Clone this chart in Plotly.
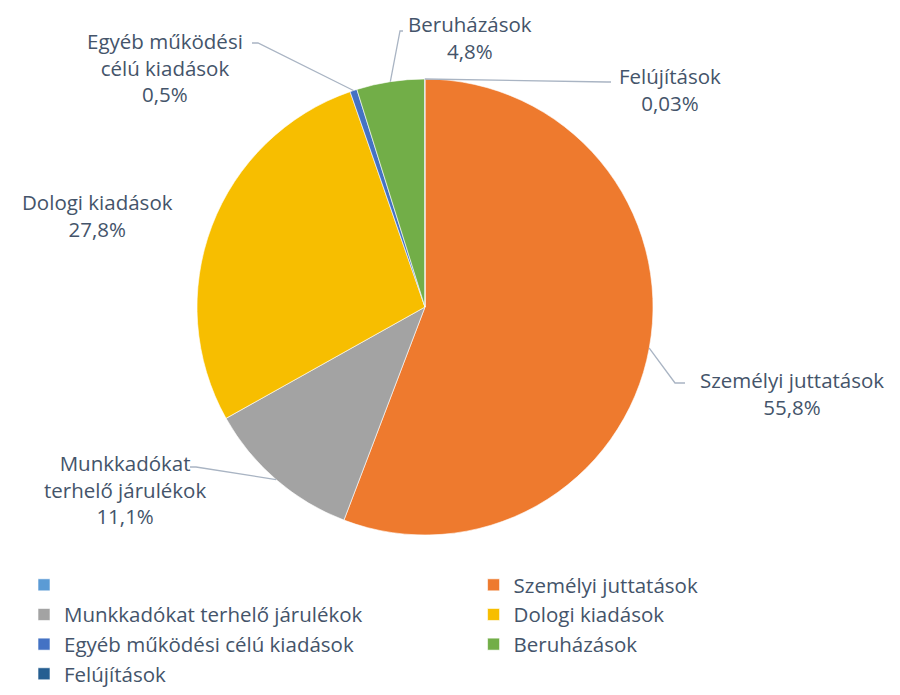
import math
import plotly.graph_objects as go

# ---- data ----
labels = ["\u00a0", "Személyi juttatások", "Munkkadókat terhelő járulékok", "Dologi kiadások",
          "Egyéb működési célú kiadások", "Beruházások", "Felújítások"]
values = [0, 55.8, 11.1, 27.8, 0.5, 4.8, 0.03]
label_lines = ["", "Személyi juttatások", "Munkkadókat<br>terhelő járulékok", "Dologi kiadások",
               "Egyéb működési<br>célú kiadások", "Beruházások", "Felújítások"]
colors = ["#5B9BD5", "#EE7A2E", "#A3A3A3", "#F7BE00", "#4472C4", "#72AE48", "#255E91"]

# ---- layout constants (pixels) ----
W, H = 900, 695
CX, CY, R = 425, 307, 228
TEXT_COLOR = "#44546A"
LINE_COLOR = "#A9B4C3"
FONT = "Open Sans"
FS_LABEL = 20.5
FS_LEGEND = 20.5
# label centre positions and leader (elbow, end) points, per category index
label_pos = {1: (792, 393), 2: (125, 490), 3: (97, 216), 4: (165, 67), 5: (470, 37), 6: (670, 90)}
leader = {1: ((675, 383), (685, 383)), 2: ((196, 467), (190, 467)),
          4: ((258, 43), (252, 43)), 5: ((400, 31), (403, 31)), 6: ((607, 82), (611, 82))}


def fmt_pct(v):
    return f"{v}".replace(".", ",") + "%"


fig = go.Figure(go.Pie(
    labels=labels,
    values=values,
    sort=False,
    direction="clockwise",
    rotation=0,
    textinfo="none",
    hoverinfo="label+percent",
    marker=dict(colors=colors, line=dict(color="white", width=0.6)),
    domain=dict(x=[(CX - R) / W, (CX + R) / W], y=[(H - CY - R) / H, (H - CY + R) / H]),
))

total = sum(values)
annotations = []
shapes = []
cum = 0.0
for i, v in enumerate(values):
    mid = (cum + v / 2) / total
    cum += v
    if i not in label_pos:
        continue
    lx, ly = label_pos[i]
    annotations.append(dict(
        x=lx / W, y=1 - ly / H, xref="paper", yref="paper",
        text=f"{label_lines[i]}<br>{fmt_pct(v)}", showarrow=False,
        xanchor="center", yanchor="middle", align="center",
        font=dict(family=FONT, size=FS_LABEL, color=TEXT_COLOR),
    ))
    if i in leader:
        th = 2 * math.pi * mid
        px = CX + R * math.sin(th)
        py = CY - R * math.cos(th)
        (ex, ey), (tx, ty) = leader[i]
        path = f"M {px/W} {1-py/H} L {ex/W} {1-ey/H} L {tx/W} {1-ty/H}"
        shapes.append(dict(type="path", path=path, xref="paper", yref="paper",
                           line=dict(color=LINE_COLOR, width=1.3)))

fig.update_layout(
    width=W, height=H,
    margin=dict(l=0, r=0, t=0, b=0, autoexpand=False),
    paper_bgcolor="white",
    plot_bgcolor="white",
    font=dict(family=FONT, size=FS_LEGEND, color=TEXT_COLOR),
    annotations=annotations,
    shapes=shapes,
    showlegend=True,
    legend=dict(
        orientation="h",
        x=24 / W, y=1 - 565 / H, xanchor="left", yanchor="top",
        entrywidth=0.4995, entrywidthmode="fraction",
        font=dict(family=FONT, size=FS_LEGEND, color=TEXT_COLOR),
        traceorder="normal",
        bgcolor="rgba(0,0,0,0)",
    ),
)

fig.write_html("out.html", config={"displayModeBar": False},
               post_script="document.body.style.margin='0';")
